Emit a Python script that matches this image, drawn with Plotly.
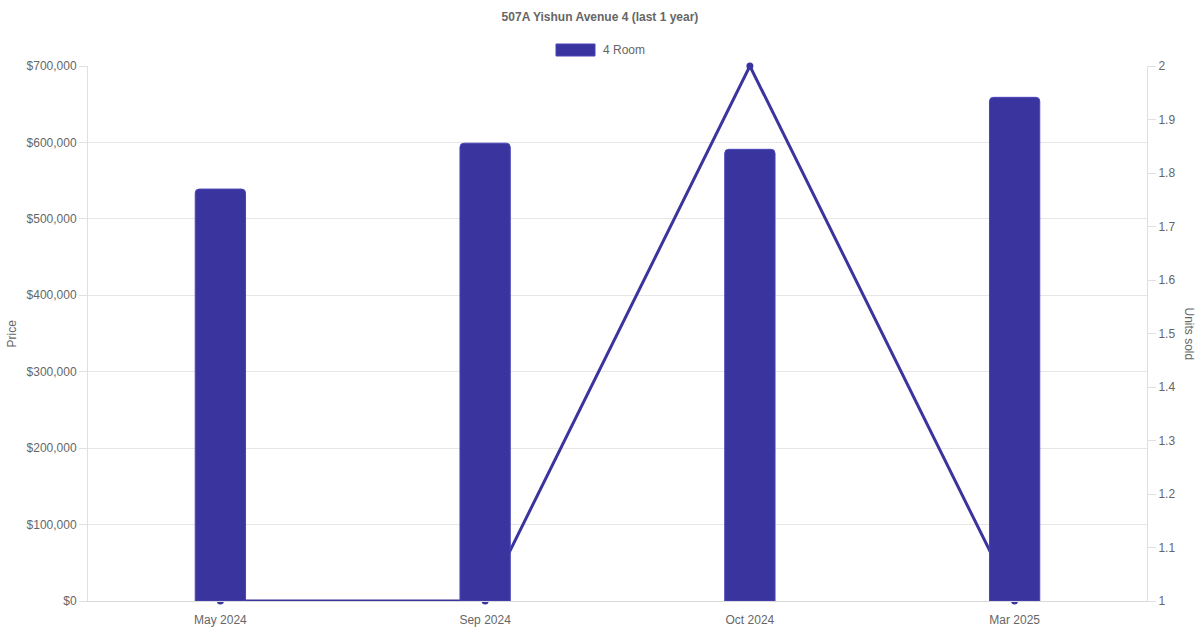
import plotly.graph_objects as go

months = ["May 2024", "Sep 2024", "Oct 2024", "Mar 2025"]
prices = [539000, 599000, 591000, 659000]
units_sold = [1, 1, 2, 1]
price_ticks = [0, 100000, 200000, 300000, 400000, 500000, 600000, 700000]
price_tick_labels = ["$0", "$100,000", "$200,000", "$300,000", "$400,000",
                     "$500,000", "$600,000", "$700,000"]

color = "#3a359e"
grey = "#666666"
font_family = "Liberation Sans, Arial, sans-serif"

# plot area spans x 88..1147, y 66..601
L, T, R, B = 88, 66, 53, 29
W, H = 1200, 630
PW, PH = W - L - R, H - T - B

fig = go.Figure()

fig.add_trace(go.Scatter(
    x=months, y=units_sold, yaxis="y", mode="lines+markers",
    line=dict(color=color, width=3), marker=dict(color=color, size=7),
    cliponaxis=False, showlegend=False, name="Units sold"
))
fig.add_trace(go.Bar(
    x=months, y=prices, yaxis="y2", width=0.19,
    marker=dict(color=color, line=dict(color="#4a45b8", width=1)),
    name="4 Room", showlegend=False
))

fig.update_layout(
    width=W, height=H,
    margin=dict(l=L, r=R, t=T, b=B, autoexpand=False),
    paper_bgcolor="white", plot_bgcolor="white",
    font=dict(family=font_family, size=12, color=grey),
    barcornerradius=4,
    xaxis=dict(
        type="category", showgrid=False, showline=True, linecolor="#d9d9d9",
        linewidth=1, ticks="", ticklabelstandoff=8, automargin=False,
        tickfont=dict(size=12, color=grey), range=[-0.5, 3.5],
    ),
    yaxis=dict(
        side="right", range=[1, 2], dtick=0.1, tick0=1, showgrid=False,
        showline=True, linecolor="#e0e0e0", ticks="outside", ticklen=8,
        tickcolor="#e0e0e0", zeroline=False, automargin=False,
        tickfont=dict(size=12, color=grey),
    ),
    yaxis2=dict(
        side="left", overlaying="y", range=[0, 700000],
        tickmode="array", tickvals=price_ticks, ticktext=price_tick_labels,
        showgrid=True, gridcolor="#e6e6e6", showline=True, linecolor="#e0e0e0",
        ticks="outside", ticklen=8, tickcolor="#e0e0e0", zeroline=False,
        automargin=False, tickfont=dict(size=12, color=grey),
    ),
    title=dict(
        text="<b>507A Yishun Avenue 4 (last 1 year)</b>", x=0.5,
        xanchor="center", y=1 - 17 / H, yanchor="middle",
        font=dict(size=12, color=grey),
    ),
)

# legend replica
fig.add_shape(type="rect", xref="paper", yref="paper",
              x0=(556 - L) / PW, x1=(595 - L) / PW,
              y0=1 + (T - 56) / PH, y1=1 + (T - 44) / PH,
              fillcolor=color, line=dict(color="#4a45b8", width=1))
fig.add_annotation(text="4 Room", xref="paper", yref="paper",
                   x=(601 - L) / PW, y=1 + (T - 50) / PH,
                   xanchor="left", yanchor="middle", showarrow=False,
                   font=dict(size=12, color=grey))

fig.add_annotation(text="Price", xref="paper", yref="paper",
                   x=-(L - 11) / PW, y=0.5, textangle=-90,
                   xanchor="center", yanchor="middle", showarrow=False,
                   font=dict(size=12, color=grey))
fig.add_annotation(text="Units sold", xref="paper", yref="paper",
                   x=1 + (1189 - (L + PW)) / PW, y=0.5, textangle=90,
                   xanchor="center", yanchor="middle", showarrow=False,
                   font=dict(size=12, color=grey))

fig.write_html("out.html", config={"displayModeBar": False},
               post_script="document.body.style.margin='0';")
